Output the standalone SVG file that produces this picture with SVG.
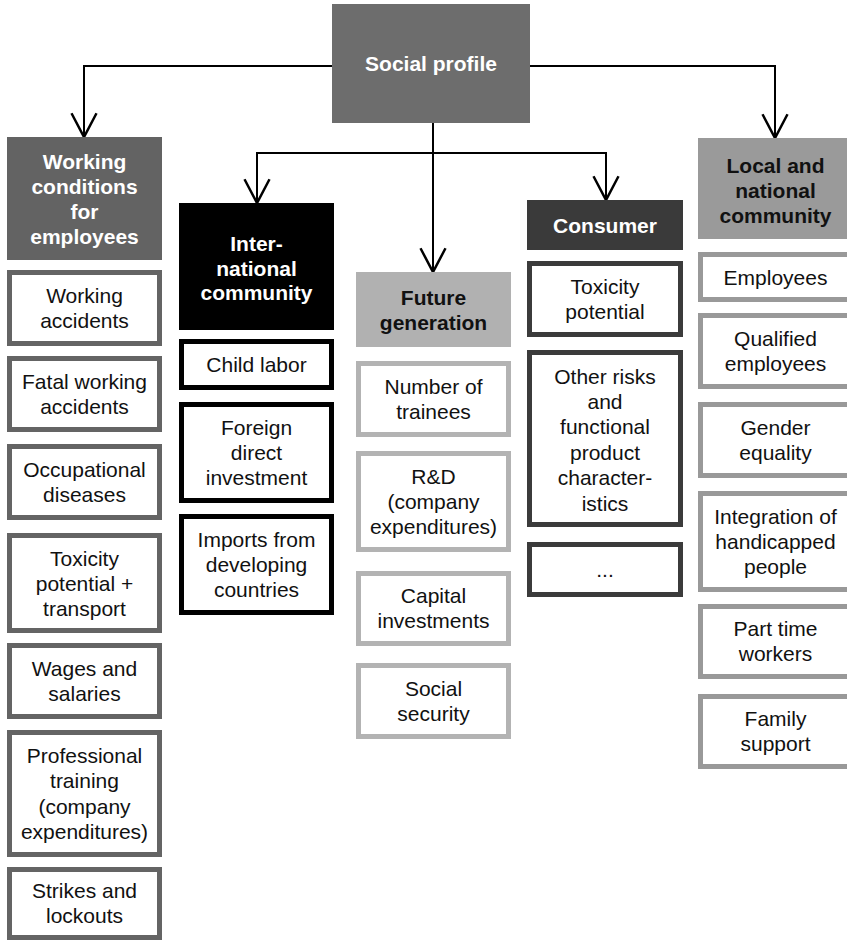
<svg xmlns="http://www.w3.org/2000/svg" width="847" height="942" viewBox="0 0 847 942">
  <style>
    .hd { font-family: "Liberation Sans", Arial, sans-serif; font-size: 21px; font-weight: bold; text-anchor: middle; fill: #ffffff; }
    .hd.dark { fill: #111111; }
    .it { font-family: "Liberation Sans", Arial, sans-serif; font-size: 21px; text-anchor: middle; fill: #111111; }
    .box { fill: #ffffff; stroke-width: 5; }
    .c-work { stroke: #646464; }
    .c-intl { stroke: #000000; }
    .c-futr { stroke: #b3b3b3; }
    .c-cons { stroke: #3b3b3b; }
    .c-locl { stroke: #999999; }
    .link { fill: none; stroke: #000000; stroke-width: 2; marker-end: url(#open); }
  </style>
  <defs>
    <marker id="open" markerUnits="userSpaceOnUse" markerWidth="30" markerHeight="30" viewBox="-22 -12 24 24" refX="0" refY="0" orient="auto">
      <path d="M-19,-10 L0,0 L-19,10" fill="none" stroke="#000000" stroke-width="2"/>
    </marker>
  </defs>

  <rect width="847" height="942" fill="#ffffff"/>

  <!-- connectors -->
  <g id="connectors">
    <path class="link" d="M332,66 H84 V137"/>
    <path class="link" d="M530,66 H775 V138"/>
    <path class="link" d="M433,123 V272"/>
    <path class="link" d="M433,153 H257 V203"/>
    <path class="link" d="M433,153 H606 V200"/>
  </g>

  <!-- root -->
  <g id="social-profile">
    <rect x="332" y="4" width="198" height="119" fill="#6d6d6d"/>
    <text class="hd" x="431" y="71">Social profile</text>
  </g>

  <!-- column 1: working conditions -->
  <g id="working-conditions">
    <rect x="7" y="137" width="155" height="123" fill="#636363"/>
    <text class="hd" x="84.5" y="169"><tspan x="84.5">Working</tspan><tspan x="84.5" dy="25">conditions</tspan><tspan x="84.5" dy="25">for</tspan><tspan x="84.5" dy="25">employees</tspan></text>
  </g>
  <g id="working-accidents">
    <rect class="box c-work" x="9.5" y="272.5" width="150" height="71"/>
    <text class="it" x="84.5" y="302.5"><tspan x="84.5">Working</tspan><tspan x="84.5" dy="25">accidents</tspan></text>
  </g>
  <g id="fatal-working-accidents">
    <rect class="box c-work" x="9.5" y="358.5" width="150" height="71"/>
    <text class="it" x="84.5" y="388.5"><tspan x="84.5">Fatal working</tspan><tspan x="84.5" dy="25">accidents</tspan></text>
  </g>
  <g id="occupational-diseases">
    <rect class="box c-work" x="9.5" y="446.5" width="150" height="71"/>
    <text class="it" x="84.5" y="476.5"><tspan x="84.5">Occupational</tspan><tspan x="84.5" dy="25">diseases</tspan></text>
  </g>
  <g id="toxicity-transport">
    <rect class="box c-work" x="9.5" y="535.5" width="150" height="95"/>
    <text class="it" x="84.5" y="565.5"><tspan x="84.5">Toxicity</tspan><tspan x="84.5" dy="25">potential +</tspan><tspan x="84.5" dy="25">transport</tspan></text>
  </g>
  <g id="wages-salaries">
    <rect class="box c-work" x="9.5" y="645.5" width="150" height="71"/>
    <text class="it" x="84.5" y="675.5"><tspan x="84.5">Wages and</tspan><tspan x="84.5" dy="25">salaries</tspan></text>
  </g>
  <g id="professional-training">
    <rect class="box c-work" x="9.5" y="732.5" width="150" height="122"/>
    <text class="it" x="84.5" y="763"><tspan x="84.5">Professional</tspan><tspan x="84.5" dy="25.3">training</tspan><tspan x="84.5" dy="25.3">(company</tspan><tspan x="84.5" dy="25.3">expenditures)</tspan></text>
  </g>
  <g id="strikes-lockouts">
    <rect class="box c-work" x="9.5" y="869.5" width="150" height="68"/>
    <text class="it" x="84.5" y="898"><tspan x="84.5">Strikes and</tspan><tspan x="84.5" dy="25">lockouts</tspan></text>
  </g>

  <!-- column 2: international community -->
  <g id="international-community">
    <rect x="179" y="203" width="155" height="127" fill="#000000"/>
    <text class="hd" x="256.5" y="251"><tspan x="256.5">Inter-</tspan><tspan x="256.5" dy="24.5">national</tspan><tspan x="256.5" dy="24.5">community</tspan></text>
  </g>
  <g id="child-labor">
    <rect class="box c-intl" x="181.5" y="341.5" width="150" height="46"/>
    <text class="it" x="256.5" y="372">Child labor</text>
  </g>
  <g id="foreign-direct-investment">
    <rect class="box c-intl" x="181.5" y="404.5" width="150" height="96"/>
    <text class="it" x="256.5" y="435"><tspan x="256.5">Foreign</tspan><tspan x="256.5" dy="25">direct</tspan><tspan x="256.5" dy="25">investment</tspan></text>
  </g>
  <g id="imports-developing">
    <rect class="box c-intl" x="181.5" y="516.5" width="150" height="96"/>
    <text class="it" x="256.5" y="547"><tspan x="256.5">Imports from</tspan><tspan x="256.5" dy="25">developing</tspan><tspan x="256.5" dy="25">countries</tspan></text>
  </g>

  <!-- column 3: future generation -->
  <g id="future-generation">
    <rect x="356" y="272" width="155" height="75" fill="#b1b1b1"/>
    <text class="hd dark" x="433.5" y="304.5"><tspan x="433.5">Future</tspan><tspan x="433.5" dy="25">generation</tspan></text>
  </g>
  <g id="number-of-trainees">
    <rect class="box c-futr" x="358.5" y="363.5" width="150" height="71"/>
    <text class="it" x="433.5" y="393.5"><tspan x="433.5">Number of</tspan><tspan x="433.5" dy="25">trainees</tspan></text>
  </g>
  <g id="r-and-d">
    <rect class="box c-futr" x="358.5" y="453.5" width="150" height="96"/>
    <text class="it" x="433.5" y="484"><tspan x="433.5">R&amp;D</tspan><tspan x="433.5" dy="25">(company</tspan><tspan x="433.5" dy="25">expenditures)</tspan></text>
  </g>
  <g id="capital-investments">
    <rect class="box c-futr" x="358.5" y="573.5" width="150" height="70"/>
    <text class="it" x="433.5" y="603"><tspan x="433.5">Capital</tspan><tspan x="433.5" dy="25">investments</tspan></text>
  </g>
  <g id="social-security">
    <rect class="box c-futr" x="358.5" y="665.5" width="150" height="71"/>
    <text class="it" x="433.5" y="695.5"><tspan x="433.5">Social</tspan><tspan x="433.5" dy="25">security</tspan></text>
  </g>

  <!-- column 4: consumer -->
  <g id="consumer">
    <rect x="527" y="200" width="156" height="50" fill="#3a3a3a"/>
    <text class="hd" x="605" y="232.5">Consumer</text>
  </g>
  <g id="toxicity-potential">
    <rect class="box c-cons" x="529.5" y="263.5" width="151" height="71"/>
    <text class="it" x="605" y="293.5"><tspan x="605">Toxicity</tspan><tspan x="605" dy="25">potential</tspan></text>
  </g>
  <g id="other-risks">
    <rect class="box c-cons" x="529.5" y="352.5" width="151" height="172"/>
    <text class="it" x="605" y="383.5"><tspan x="605">Other risks</tspan><tspan x="605" dy="25.4">and</tspan><tspan x="605" dy="25.4">functional</tspan><tspan x="605" dy="25.4">product</tspan><tspan x="605" dy="25.4">character-</tspan><tspan x="605" dy="25.4">istics</tspan></text>
  </g>
  <g id="more-consumer">
    <rect class="box c-cons" x="529.5" y="544.5" width="151" height="50"/>
    <text class="it" x="605" y="577">...</text>
  </g>

  <!-- column 5: local and national community -->
  <g id="local-national-community">
    <rect x="698" y="138" width="155" height="101" fill="#9a9a9a"/>
    <text class="hd dark" x="775.5" y="172.5"><tspan x="775.5">Local and</tspan><tspan x="775.5" dy="25">national</tspan><tspan x="775.5" dy="25">community</tspan></text>
  </g>
  <g id="employees">
    <rect class="box c-locl" x="700.5" y="254.5" width="150" height="45"/>
    <text class="it" x="775.5" y="284.5">Employees</text>
  </g>
  <g id="qualified-employees">
    <rect class="box c-locl" x="700.5" y="315.5" width="150" height="71"/>
    <text class="it" x="775.5" y="345.5"><tspan x="775.5">Qualified</tspan><tspan x="775.5" dy="25">employees</tspan></text>
  </g>
  <g id="gender-equality">
    <rect class="box c-locl" x="700.5" y="404.5" width="150" height="71"/>
    <text class="it" x="775.5" y="434.5"><tspan x="775.5">Gender</tspan><tspan x="775.5" dy="25">equality</tspan></text>
  </g>
  <g id="integration-handicapped">
    <rect class="box c-locl" x="700.5" y="493.5" width="150" height="96"/>
    <text class="it" x="775.5" y="524"><tspan x="775.5">Integration of</tspan><tspan x="775.5" dy="25">handicapped</tspan><tspan x="775.5" dy="25">people</tspan></text>
  </g>
  <g id="part-time-workers">
    <rect class="box c-locl" x="700.5" y="606.5" width="150" height="70"/>
    <text class="it" x="775.5" y="636"><tspan x="775.5">Part time</tspan><tspan x="775.5" dy="25">workers</tspan></text>
  </g>
  <g id="family-support">
    <rect class="box c-locl" x="700.5" y="696.5" width="150" height="70"/>
    <text class="it" x="775.5" y="726"><tspan x="775.5">Family</tspan><tspan x="775.5" dy="25">support</tspan></text>
  </g>
</svg>
